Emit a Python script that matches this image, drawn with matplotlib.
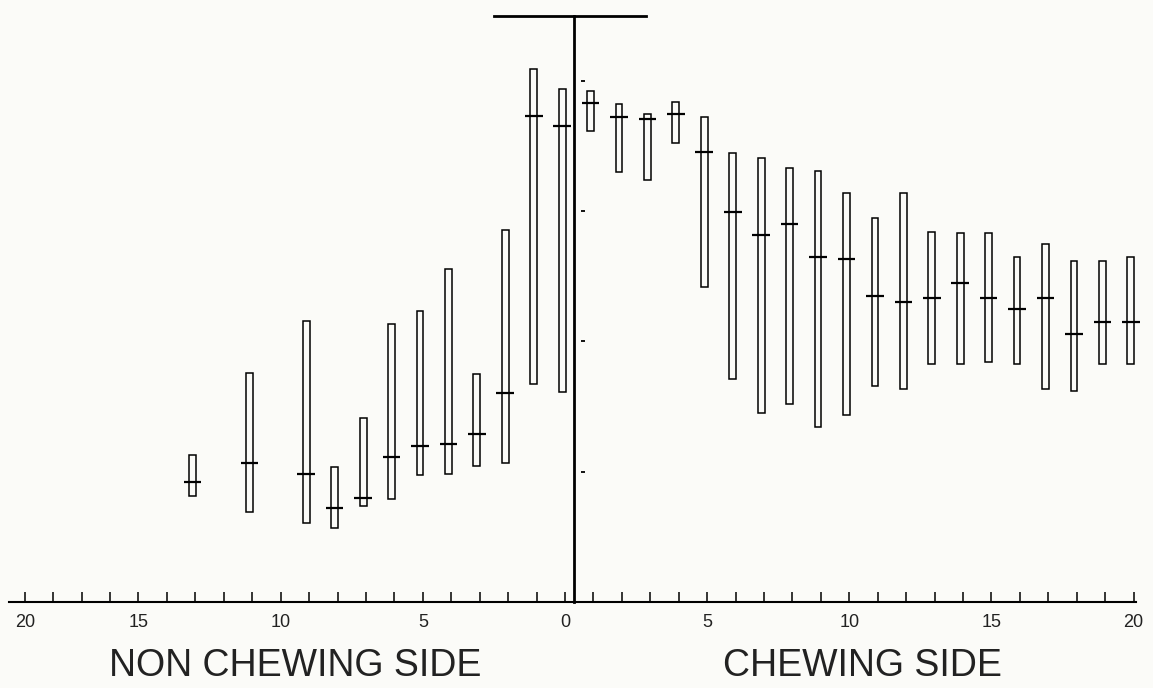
import numpy as np
import matplotlib.pyplot as plt

# non chewing side (plotted to the left of 0)
non_pos = [13, 11, 9, 8, 7, 6, 5, 4, 3, 2, 1, 0]
non_top = [22.5, 35.1, 43.2, 20.7, 28.2, 42.7, 44.7, 51.1, 35.0, 57.1, 81.8, 78.7]
non_bot = [16.3, 13.8, 12.2, 11.4, 14.7, 15.8, 19.5, 19.7, 20.9, 21.4, 33.4, 32.3]
non_mean = [18.4, 21.4, 19.7, 14.5, 16.0, 22.3, 24.0, 24.2, 25.8, 32.1, 74.6, 73.0]

# chewing side
chew_pos = list(range(1, 21))
chew_top = [78.5, 76.4, 74.9, 76.8, 74.4, 68.9, 68.1, 66.6, 66.2, 62.8,
            58.9, 62.8, 56.8, 56.6, 56.6, 52.9, 54.9, 52.4, 52.4, 52.9]
chew_bot = [72.3, 66.0, 64.7, 70.4, 48.4, 34.3, 29.0, 30.4, 26.9, 28.7,
            33.2, 32.7, 36.5, 36.5, 36.9, 36.5, 32.7, 32.4, 36.5, 36.5]
chew_mean = [76.6, 74.4, 74.1, 74.9, 69.0, 59.9, 56.3, 58.0, 52.9, 52.7,
             46.9, 46.1, 46.7, 48.9, 46.7, 45.0, 46.6, 41.1, 43.0, 43.0]

xlabels_left = ["20", "15", "10", "5", "0"]
xlabels_left_pos = [-19, -15, -10, -5, 0]
xlabels_right = ["5", "10", "15", "20"]
xlabels_right_pos = [5, 10, 15, 20]
y_ticks = [20, 40, 60, 80]

plt.rcParams['font.family'] = ['Liberation Sans', 'DejaVu Sans']

fig = plt.figure(figsize=(11.53, 6.88), dpi=100)
fig.patch.set_facecolor('#fbfbf8')
ax = fig.add_axes([0, 0, 1, 1])
ax.set_facecolor('#fbfbf8')
ax.set_xlim(-19.87, 20.68)
ax.set_ylim(-13.2, 92.4)
ax.axis('off')

shift = -0.1
x_all = np.concatenate([-np.array(non_pos), np.array(chew_pos)]) + shift
top_all = np.array(non_top + chew_top)
bot_all = np.array(non_bot + chew_bot)
mean_all = np.array(non_mean + chew_mean)

ax.bar(x_all, top_all - bot_all, bottom=bot_all, width=0.24,
       facecolor='none', edgecolor='black', linewidth=1.1)
ax.hlines(mean_all, x_all - 0.31, x_all + 0.31, color='black', linewidth=1.6)

# bottom axis with upward ticks
ax.plot([-19.55, 20.08], [0, 0], color='black', lw=1.5)
ticks = np.arange(-19, 21)
ax.vlines(ticks, 0, 1.5, color='black', lw=1.1)
for p, s in zip(xlabels_left_pos + xlabels_right_pos, xlabels_left + xlabels_right):
    ax.text(p, -3.2, s, ha='center', va='center', fontsize=13, color='#222222')

# vertical divider with the top bar
ax.plot([0.3, 0.3], [0, 90], color='black', lw=2.0)
ax.plot([-2.5, 2.84], [90, 90], color='black', lw=2.0)
ax.hlines(y_ticks, 0.57, 0.70, color='black', lw=1.3)

ax.text(-9.5, -9.8, "NON CHEWING SIDE", ha='center', va='center',
        fontsize=27, color='#222222')
ax.text(10.45, -9.8, "CHEWING SIDE", ha='center', va='center',
        fontsize=27, color='#222222')

fig.savefig('out.png', dpi=100, facecolor=fig.get_facecolor())
